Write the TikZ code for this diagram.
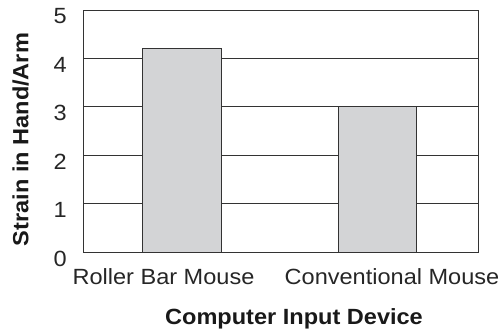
\documentclass[tikz,border=0pt]{standalone}
\usepackage{fontspec}
\setmainfont{Liberation Sans}[FakeStretch=1.07]
\begin{document}
\begin{tikzpicture}[x=1pt,y=1pt,
  lbl/.style={inner sep=0pt,font=\fontsize{22}{26}\selectfont,text=black!85},
  ttl/.style={inner sep=0pt,font=\fontsize{22}{26}\selectfont\bfseries,text=black!90},
  grid line/.style={draw=black!80,line width=0.9pt},
  barbox/.style={draw=black!80,line width=0.9pt,fill={rgb,255:red,211;green,212;blue,214}}]
\useasboundingbox (0,0) rectangle (502,333);
\def\bx{81}\def\un{48.4}
% gridlines
\foreach \k in {1,...,4}
  \draw[grid line] (83,{\bx+\k*\un}) -- (478,{\bx+\k*\un});
% frame
\draw[grid line] (83,\bx) rectangle (478,{\bx+5*\un});
% bars
\draw[barbox] (142,\bx) rectangle (221,{\bx+4.2*\un});
\draw[barbox] (338,\bx) rectangle (416,{\bx+3*\un});
% tick labels
\foreach \k in {0,...,5}
  \node[lbl,anchor=east] (t\k) at (67,{\bx+\k*\un-6.5}) {\k};
% category labels
\node[lbl,anchor=base] (c1) at (163.5,48.7) {Roller Bar Mouse};
\node[lbl,anchor=base] (c2) at (392,48.7) {Conventional Mouse};
% axis titles
\node[ttl,anchor=base] (xt) at (294,9) {Computer Input Device};
\node[ttl,anchor=base,rotate=90] (yt) at (28.3,193.5) {Strain in Hand/Arm};
\end{tikzpicture}
\end{document}
